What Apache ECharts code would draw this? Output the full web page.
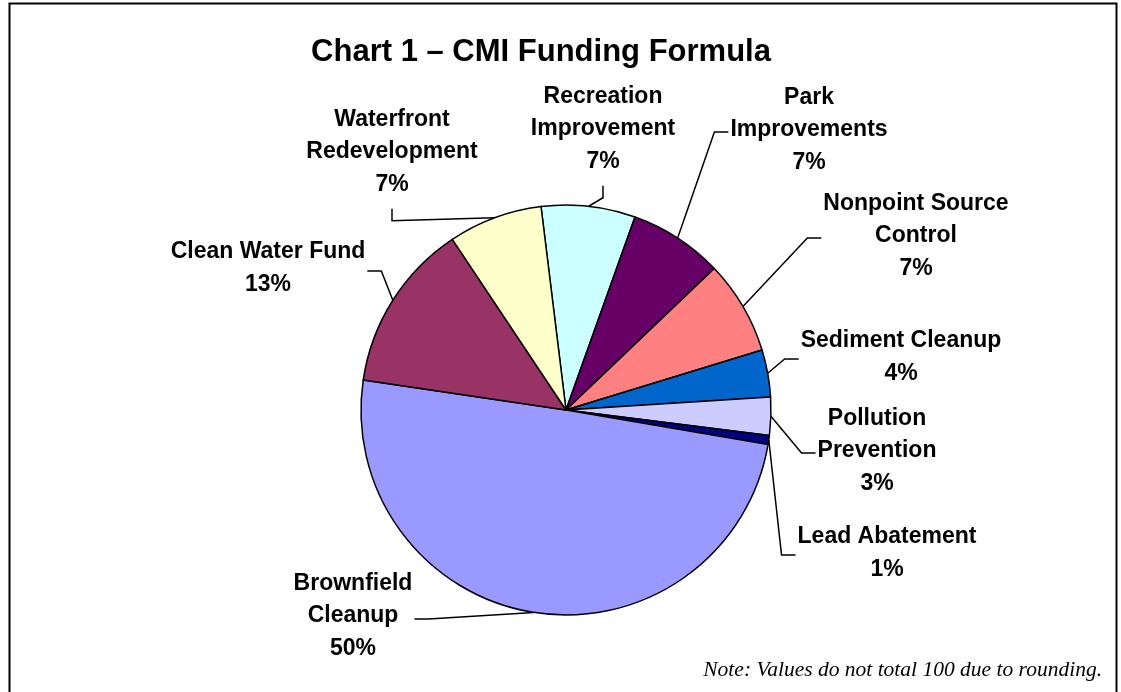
<!DOCTYPE html>
<html>
<head>
<meta charset="utf-8">
<script src="https://cdn.jsdelivr.net/npm/echarts@6/dist/echarts.min.js"></script>
<style>
  html, body { margin: 0; padding: 0; background: #fff; }
  #chart { width: 1121px; height: 692px; }
</style>
</head>
<body>
<div id="chart"></div>
<script>
// slices in drawing order, clockwise from just left of 12 o'clock
const categories = [
  'Recreation\nImprovement',
  'Park\nImprovements',
  'Nonpoint Source\nControl',
  'Sediment Cleanup',
  'Pollution\nPrevention',
  'Lead Abatement',
  'Brownfield\nCleanup',
  'Clean Water Fund',
  'Waterfront\nRedevelopment'
]
// shares in percent (labels show them rounded)
const shares = [7.4, 7.4, 7.4, 3.7, 3.0, 0.7, 49.6, 13.3, 7.4]
const colors = ['#CCFFFF', '#660066', '#FF8080', '#0066CC', '#CCCCFF', '#000080', '#9999FF', '#993366', '#FFFFCC']

// label placement (centre of text block) and which side the leader line meets
const labelSpots = [
  [603, 129], [809, 130], [916, 236], [901, 357], [877, 451],
  [887, 553], [353, 616], [268, 268], [392, 152]
]
const labelSides = ['bottom', 'left', 'left', 'left', 'left', 'left', 'right', 'right', 'bottom']

const chart = echarts.init(document.getElementById('chart'), null, { renderer: 'canvas' })

function leaderFor (i, params) {
  const pts = params.labelLinePoints
  if (!pts || !pts.length) return null
  const edge = pts[0]
  const [cx, cy] = labelSpots[i]
  const w = params.labelRect.width
  const h = params.labelRect.height
  const side = labelSides[i]
  let anchor, elbow
  if (side === 'bottom') {
    anchor = [cx, cy + h / 2 + 8]
    elbow = [cx, anchor[1] + 12]
  } else if (side === 'left') {
    anchor = [cx - w / 2 - 2, cy + 2]
    elbow = [anchor[0] - 14, anchor[1]]
  } else {
    anchor = [cx + w / 2 + 2, cy + 3]
    elbow = [anchor[0] + 14, anchor[1]]
  }
  return [edge, elbow, anchor]
}

const option = {
  animation: false,
  backgroundColor: '#fff',
  title: {
    text: 'Chart 1 \u2013 CMI Funding Formula',
    left: 536,
    top: 47,
    textAlign: 'center',
    textVerticalAlign: 'middle',
    textStyle: {
      fontFamily: 'Liberation Sans, Arial, sans-serif',
      fontWeight: 'bold',
      fontSize: 31,
      color: '#000'
    }
  },
  graphic: [
    {
      type: 'rect',
      shape: { x: 9.5, y: 3.5, width: 1107, height: 720 },
      style: { fill: null, stroke: '#000', lineWidth: 2 },
      silent: true
    },
    {
      type: 'text',
      right: 19,
      top: 659,
      style: {
        text: 'Note: Values do not total 100 due to rounding.',
        font: 'italic 21.5px "Liberation Serif", "Times New Roman", serif',
        fill: '#000'
      },
      silent: true
    }
  ],
  series: [{
    type: 'pie',
    center: [566, 410],
    radius: 205,
    startAngle: 97,
    clockwise: true,
    silent: true,
    itemStyle: { borderColor: '#000', borderWidth: 1.5 },
    label: {
      show: true,
      position: 'outside',
      formatter: p => p.name + '\n' + Math.round(p.value) + '%',
      fontFamily: 'Liberation Sans, Arial, sans-serif',
      fontWeight: 'bold',
      fontSize: 23,
      lineHeight: 32.5,
      color: '#000',
      align: 'center'
    },
    labelLine: {
      show: true,
      length: 14,
      length2: 14,
      lineStyle: { color: '#000', width: 1.5 }
    },
    labelLayout: params => {
      const i = params.dataIndex
      const spot = labelSpots[i]
      const out = { x: spot[0], y: spot[1], align: 'center', verticalAlign: 'middle' }
      const line = leaderFor(i, params)
      if (line) out.labelLinePoints = line
      return out
    },
    data: categories.map((name, i) => ({
      name,
      value: shares[i],
      itemStyle: { color: colors[i] }
    }))
  }]
}

chart.setOption(option)
</script>
</body>
</html>
